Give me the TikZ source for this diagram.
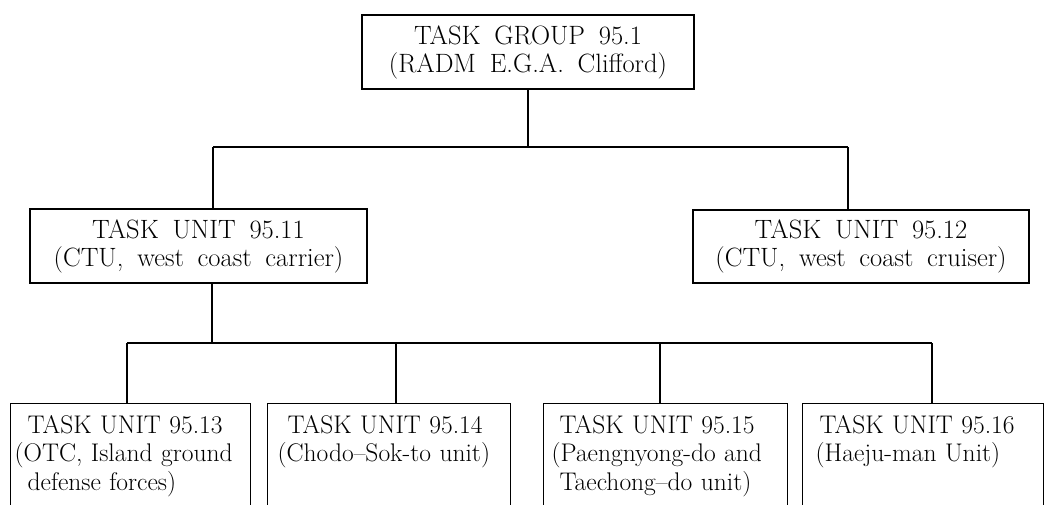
\documentclass[tikz,border=0pt]{standalone}
\usetikzlibrary{calc}
\newcommand{\ind}[1]{\leavevmode\hspace*{#1}}
\newcommand{\hangparen}[1]{\leavevmode\hspace*{#1}\llap{(}}
\newcommand{\widesp}[1]{\spaceskip=#1em plus 0.1em minus 0.05em\relax}
\begin{document}
\begin{tikzpicture}[x=1pt,y=-1pt,
  txt/.style={font=\fontsize{26.5}{28}\selectfont\widesp{0.52}},
  leaftxt/.style={font=\fontsize{25.5}{28.5}\selectfont\widesp{0.45}},
  box/.style={draw=black,line width=1.3pt,txt,inner sep=0pt,align=center},
  leaf/.style={draw=black,line width=1.3pt,leaftxt,anchor=north west,align=left,
    inner xsep=0pt,inner ysep=11.5pt,text depth=110pt},
  conn/.style={line width=1.3pt},
  vconn/.style={line width=2pt}]
\useasboundingbox (0,0) rectangle (1052,504);
\fill[white] (0,0) rectangle (1052,504);

\node[box,minimum width=332pt,minimum height=74pt] (top) at (528,52)
  {TASK GROUP 95.1\\(RADM E.G.A. Clifford)};
\node[box,minimum width=337pt,minimum height=74pt] (b11) at (198.5,246)
  {TASK UNIT 95.11\\(CTU, west coast carrier)};
\node[box,minimum width=336pt,minimum height=73pt] (b12) at (861,246.5)
  {TASK UNIT 95.12\\(CTU, west coast cruiser)};

\node[leaf,text width=240pt] (u13) at (10,403)
  {\ind{17pt}TASK UNIT 95.13\\\hangparen{13pt}OTC, Island ground\\\ind{17pt}defense forces)};
\node[leaf,text width=243pt] (u14) at (267,403)
  {\ind{20pt}TASK UNIT 95.14\\\hangparen{19pt}Chodo--Sok-to unit)};
\node[leaf,text width=244pt] (u15) at (543,403)
  {\ind{16pt}TASK UNIT 95.15\\\hangparen{17pt}Paengnyong-do and\\\ind{16pt}Taechong--do unit)};
\node[leaf,text width=241pt] (u16) at (802,403)
  {\ind{17pt}TASK UNIT 95.16\\\hangparen{22pt}Haeju-man Unit)};

% upper tier connectors
\coordinate (h1L) at (213,147);
\coordinate (h1R) at (848,147);
\draw[conn] (h1L) -- (h1R);
\draw[vconn] (top.south) -- (top.south |- h1L);
\draw[vconn] (h1L) -- (h1L |- b11.north);
\draw[vconn] (h1R) -- (h1R |- b12.north);

% lower tier connectors
\coordinate (h2L) at (127,343);
\coordinate (h2R) at (932,343);
\coordinate (j0) at (212,343);
\coordinate (j14) at (396,343);
\coordinate (j15) at (660,343);
\draw[conn] (h2L) -- (h2R);
\draw[vconn] (j0 |- b11.south) -- (j0);
\draw[vconn] (h2L) -- (h2L |- u13.north);
\draw[vconn] (j14) -- (j14 |- u14.north);
\draw[vconn] (j15) -- (j15 |- u15.north);
\draw[vconn] (h2R) -- (h2R |- u16.north);
\end{tikzpicture}
\end{document}
